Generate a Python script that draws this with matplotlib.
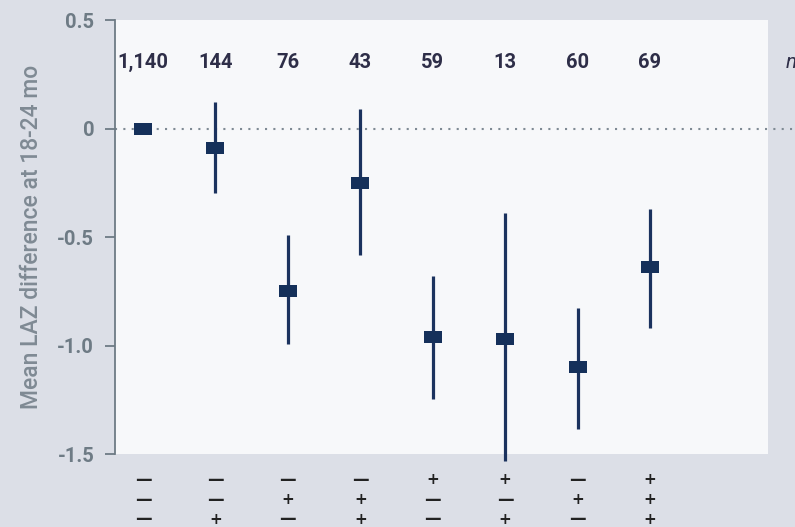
import matplotlib
matplotlib.use("Agg")
import matplotlib.pyplot as plt
import numpy as np

plt.rcParams['font.family'] = ['Roboto', 'DejaVu Sans']

n_labels = ["1,140", "144", "76", "43", "59", "13", "60", "69"]
means = [0.0, -0.09, -0.75, -0.25, -0.96, -0.97, -1.10, -0.64]
ci_low = [0.0, -0.295, -0.995, -0.585, -1.245, -1.53, -1.387, -0.917]
ci_high = [0.0, 0.12, -0.49, 0.088, -0.68, -0.39, -0.825, -0.37]
row1 = ["—", "—", "—", "—", "+", "+", "—", "+"]
row2 = ["—", "—", "+", "+", "—", "—", "+", "+"]
row3 = ["—", "+", "—", "+", "—", "+", "—", "+"]
yticks = [0.5, 0, -0.5, -1.0, -1.5]
ytick_labels = ["0.5", "0", "-0.5", "-1.0", "-1.5"]

fig_bg = "#DCDFE7"
ax_bg = "#F7F8FA"
navy = "#15305A"

fig = plt.figure(figsize=(7.95, 5.27), dpi=100, facecolor=fig_bg)
ax = fig.add_axes([0.1447, 0.1385, 0.966 - 0.1447, 0.962 - 0.1385])
ax.set_facecolor(ax_bg)

x = np.arange(len(means))
xmin, xmax = -0.387, 8.63
ax.set_xlim(xmin, xmax)
ax.set_ylim(-1.5, 0.5)

# zero reference line
ax.plot([xmin, 9.2], [0, 0], linestyle=(0, (1, 3)), lw=1.5, color="#7F8A94",
        clip_on=False, zorder=1)

for xi, m, lo, hi in zip(x, means, ci_low, ci_high):
    if hi != lo:
        ax.plot([xi, xi], [lo, hi], color="#1B325E", lw=2.3, clip_on=False,
                zorder=2, solid_capstyle='butt')
rect = [(-1, -0.76), (1, -0.76), (1, 0.76), (-1, 0.76), (-1, -0.76)]
ax.plot(x, means, linestyle='none', marker=rect, markersize=12.3,
        color=navy, markeredgewidth=0, zorder=3, clip_on=False)

for xi, lab in zip(x, n_labels):
    ax.text(xi, 0.304, lab, ha='center', va='center', fontsize=14.5,
            fontweight='bold', color="#2E2E48")
ax.text(8.87, 0.304, "n", ha='left', va='center', fontsize=15,
        style='italic', color="#2E2E48", clip_on=False)

for ypix, row in zip([480, 500, 519], [row1, row2, row3]):
    yf = 1 - ypix / 527
    for xi, s in zip(x, row):
        xd = ax.transData.transform((xi, 0))[0]
        xf = xd / fig.bbox.width
        fig.text(xf, yf, s, ha='center', va='center', fontsize=11 if s == "+" else 12,
                 fontweight='bold', color="#222222", family=['DejaVu Sans'])

ax.set_yticks(yticks)
ax.set_yticklabels(ytick_labels, fontweight='bold')
ax.set_xticks([])
for side in ['top', 'right', 'bottom']:
    ax.spines[side].set_visible(False)
ax.spines['left'].set_color("#6E7B85")
ax.spines['left'].set_linewidth(1.3)
ax.tick_params(axis='y', direction='out', length=7, width=1.3, color="#6E7B85",
               labelsize=14.5, labelcolor="#6E7B85", pad=8)
ax.set_ylabel("Mean LAZ difference at 18-24 mo", fontsize=16.5, color="#7F8A94",
              fontweight='medium', labelpad=10)

fig.savefig("out.png", dpi=100, facecolor=fig_bg)
